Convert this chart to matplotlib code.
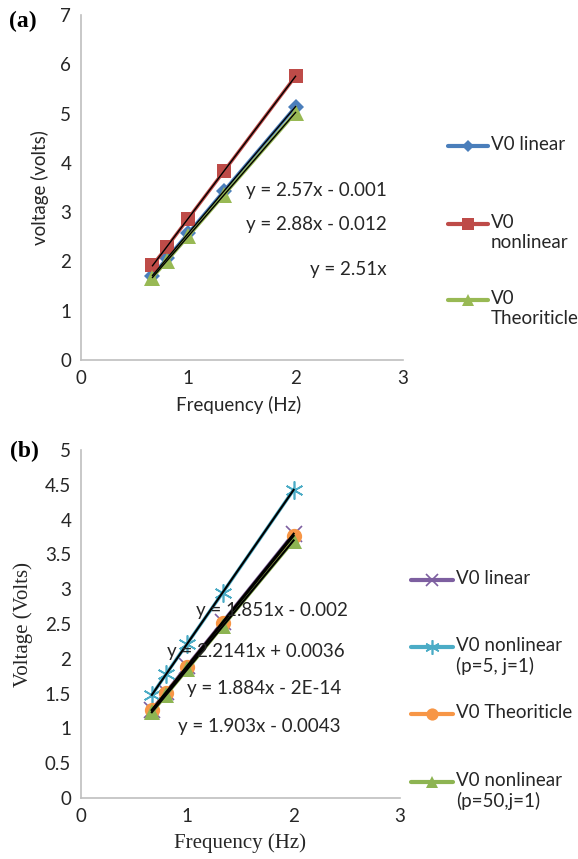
import numpy as np
import matplotlib
matplotlib.use("Agg")
import matplotlib.pyplot as plt
from matplotlib.lines import Line2D
from matplotlib.ticker import FuncFormatter

plt.rcParams['font.family'] = ['Lato', 'DejaVu Sans']

# frequencies (Hz) shared by both panels
freq = [0.667, 0.8, 1.0, 1.333, 2.0]

# panel (a)
v0_linear_a = [1.71, 2.06, 2.57, 3.43, 5.14]
v0_nonlinear_a = [1.92, 2.29, 2.87, 3.83, 5.76]
v0_theory_a = [1.67, 2.01, 2.51, 3.35, 5.02]
labels_a = ['V0 linear', 'V0\nnonlinear', 'V0\nTheoriticle']
eqs_a = ['y = 2.57x - 0.001', 'y = 2.88x - 0.012', 'y = 2.51x']

# panel (b)
v0_linear_b = [1.27, 1.52, 1.90, 2.53, 3.80]
v0_nonlin5_b = [1.48, 1.78, 2.22, 2.95, 4.43]
v0_theory_b = [1.26, 1.51, 1.88, 2.51, 3.77]
v0_nonlin50_b = [1.23, 1.48, 1.85, 2.47, 3.70]
labels_b = ['V0 linear', 'V0 nonlinear\n(p=5, j=1)', 'V0 Theoriticle', 'V0 nonlinear\n(p=50,j=1)']
eqs_b = ['y = 1.851x - 0.002', 'y = 2.2141x + 0.0036', 'y = 1.884x - 2E-14', 'y = 1.903x - 0.0043']

TXT = '#262626'
SPINE = '#bfbfbf'

fig = plt.figure(figsize=(5.78, 8.59), dpi=100)
ax1 = fig.add_axes([0.140, 0.581, 0.557, 0.4015])
ax2 = fig.add_axes([0.140, 0.071, 0.552, 0.405])

def style_axes(ax, ymax, ystep):
    ax.set_xlim(0, 3)
    ax.set_ylim(0, ymax)
    ax.set_xticks(np.arange(0, 4, 1))
    ax.set_yticks(np.arange(0, ymax + ystep / 2, ystep))
    ax.yaxis.set_major_formatter(FuncFormatter(lambda v, p: '%g' % v))
    for s in ['top', 'right']:
        ax.spines[s].set_visible(False)
    for s in ['left', 'bottom']:
        ax.spines[s].set_color(SPINE)
        ax.spines[s].set_linewidth(1.2)
    ax.tick_params(length=0, labelsize=13.5, colors=TXT, pad=7)

def series(ax, y, color, marker, ms, mew=0, z=2):
    ax.plot(freq, y, color=color, lw=2.5, marker=marker, ms=ms,
            mfc=color, mec=color, mew=mew, zorder=z)

def trend(ax, y, lw):
    k, b = np.polyfit(freq, y, 1)
    xx = np.array([freq[0], freq[-1]])
    ax.plot(xx, k * xx + b, color='black', lw=lw, zorder=5)

# ---- panel (a)
style_axes(ax1, 7, 1)
cols_a = ['#4a7ebb', '#be4b48', '#98b954']
marks_a = [('D', 8), ('s', 10), ('^', 11)]
for y, c, (m, s) in zip([v0_linear_a, v0_nonlinear_a, v0_theory_a], cols_a, marks_a):
    series(ax1, y, c, m, s)
for y in [v0_linear_a, v0_nonlinear_a, v0_theory_a]:
    trend(ax1, y, 1.0)

for txt, yy in zip(eqs_a, [3.43, 2.74, 1.83]):
    ax1.text(2.85, yy, txt, ha='right', va='center', fontsize=13.5, color=TXT)

ax1.set_ylabel('voltage (volts)', fontsize=13.5, color=TXT)
ax1.yaxis.set_label_coords(-0.10, 0.5)
ax1.set_xlabel('Frequency (Hz)', fontsize=13.5, color=TXT)
ax1.xaxis.set_label_coords(0.49, -0.105)

# ---- panel (b)
style_axes(ax2, 5, 0.5)
cols_b = ['#7d5fa0', '#4bacc6', '#f79646', '#8db452']
marks_b = [('x', 11, 1.2), ((6, 2, 0), 13, 1.2), ('o', 11, 0), ('^', 11, 0)]
data_b = [v0_linear_b, v0_nonlin5_b, v0_theory_b, v0_nonlin50_b]
for y, c, (m, s, w) in zip(data_b, cols_b, marks_b):
    series(ax2, y, c, m, s, mew=w)
for y in data_b:
    trend(ax2, y, 1.5)

for txt, xx, yy in zip(eqs_b, [2.51, 2.48, 2.45, 2.44], [2.70, 2.10, 1.58, 1.03]):
    ax2.text(xx, yy, txt, ha='right', va='center', fontsize=13.5, color=TXT, zorder=6)

ax2.set_ylabel('Voltage (Volts)', fontsize=15, color=TXT, family='Liberation Serif')
ax2.yaxis.set_label_coords(-0.15, 0.5)
ax2.set_xlabel('Frequency (Hz)', fontsize=15, color=TXT, family='Liberation Serif')
ax2.xaxis.set_label_coords(0.5, -0.1)

# ---- legends drawn by hand to keep the handle on the first text line
W, H = 578.0, 859.0

def legend_entry(x0, x1, ypx, color, marker, ms, mew, label):
    y = 1 - ypx / H
    fig.add_artist(Line2D([x0 / W, x1 / W], [y, y], transform=fig.transFigure,
                          color=color, lw=3, solid_capstyle='round'))
    fig.add_artist(Line2D([(x0 + x1) / 2 / W], [y], transform=fig.transFigure,
                          marker=marker, ms=ms, mfc=color, mec=color, mew=mew, lw=0))
    fig.text((x1 + 3) / W, 1 - (ypx - 10) / H, label, ha='left', va='top',
             fontsize=13.5, color=TXT, linespacing=1.2)

for lab, c, (m, s), ypx in zip(labels_a, cols_a, marks_a, [146, 224, 300]):
    legend_entry(448, 488, ypx, c, m, s * 0.8, 0, lab)
for lab, c, (m, s, w), ypx in zip(labels_b, cols_b, marks_b, [580, 647, 714, 782]):
    legend_entry(411, 453, ypx, c, m, s * 0.8, w, lab)

fig.text(0.015, 0.975, '(a)', fontsize=17, fontweight='bold', family='Liberation Serif', va='center')
fig.text(0.017, 0.474, '(b)', fontsize=17, fontweight='bold', family='Liberation Serif', va='center')

fig.savefig('out.png', dpi=100)
